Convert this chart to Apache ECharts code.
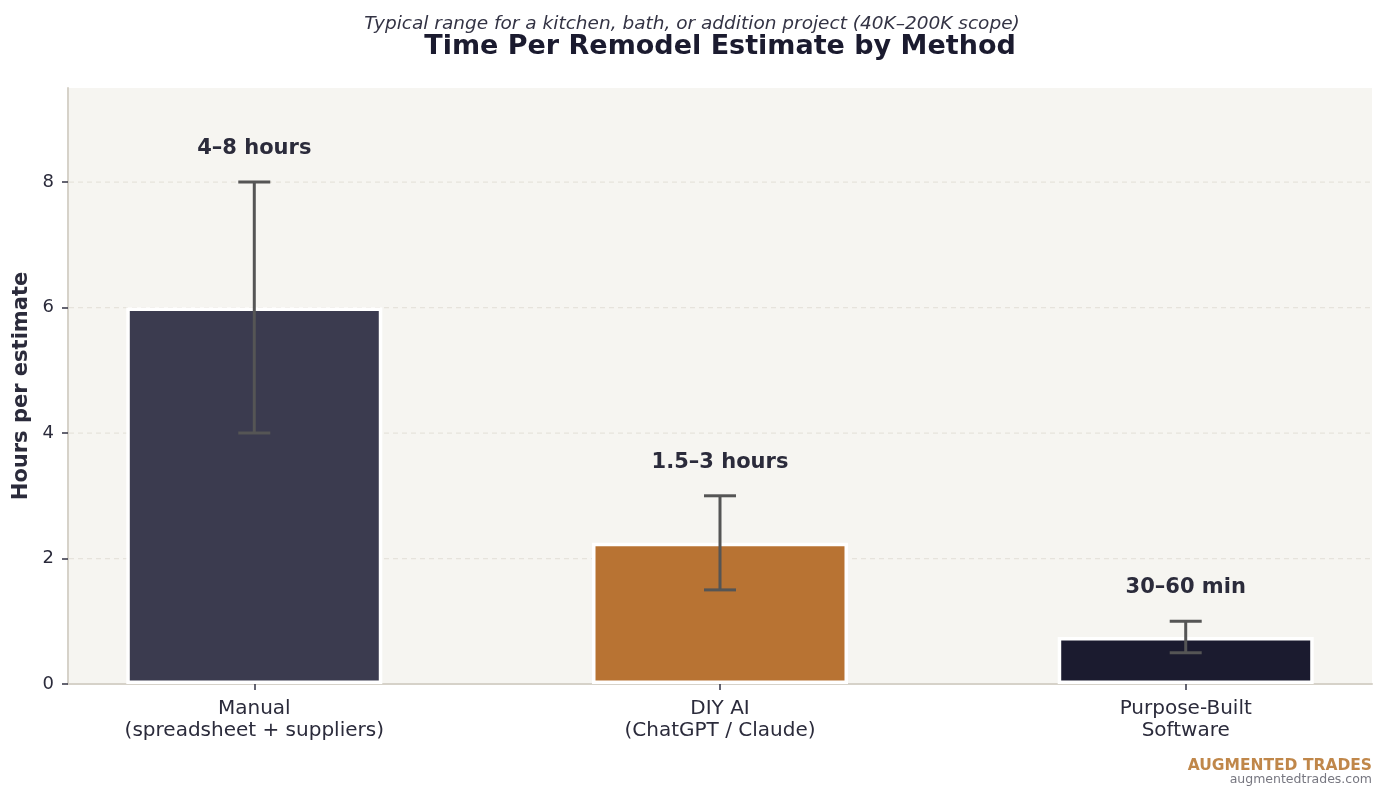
<!DOCTYPE html>
<html>
<head>
<meta charset="utf-8">
<script src="https://cdn.jsdelivr.net/npm/echarts@6/dist/echarts.min.js"></script>
<style>
  html, body { margin: 0; padding: 0; background: #ffffff; }
  #chart { width: 1385px; height: 799px; }
</style>
</head>
<body>
<div id="chart"></div>
<script>
// data
const categories = ['Manual\n(spreadsheet + suppliers)', 'DIY AI\n(ChatGPT / Claude)', 'Purpose-Built\nSoftware'];
const midHours = [6.0, 2.25, 0.75];
const lowHours = [4, 1.5, 0.5];
const highHours = [8, 3, 1];
const rangeLabels = ['4–8 hours', '1.5–3 hours', '30–60 min'];
const barColors = ['#3b3b4f', '#b87333', '#1b1b2f'];
const yTicks = [0, 2, 4, 6, 8];

const FONT = 'DejaVu Sans';

const chart = echarts.init(document.getElementById('chart'));

const barData = midHours.map((v, i) => ({
  value: [i, v],
  itemStyle: { color: barColors[i] }
}));

const errData = lowHours.map((lo, i) => [i, lo, highHours[i], rangeLabels[i]]);

chart.setOption({
  animation: false,
  textStyle: { fontFamily: FONT },
  title: [
    {
      text: 'Typical range for a kitchen, bath, or addition project (40K–200K scope)',
      left: 692, top: 15, textAlign: 'center', padding: 0,
      textStyle: { fontFamily: FONT, fontSize: 18.5, fontStyle: 'italic', fontWeight: 'normal', color: '#333344' }
    },
    {
      text: 'Time Per Remodel Estimate by Method',
      left: 720, top: 33, textAlign: 'center', padding: 0,
      textStyle: { fontFamily: FONT, fontSize: 27, fontWeight: 'bold', color: '#1b1b2f' }
    },
    {
      text: 'AUGMENTED TRADES',
      right: 13, top: 758, padding: 0,
      textStyle: { fontFamily: FONT, fontSize: 15.5, fontWeight: 'bold', color: '#c0874a' }
    },
    {
      text: 'augmentedtrades.com',
      right: 13, top: 773, padding: 0,
      textStyle: { fontFamily: FONT, fontSize: 12.5, fontWeight: 'normal', color: '#777780' }
    }
  ],
  grid: {
    left: 68, right: 13, top: 88, bottom: 115,
    show: true, backgroundColor: '#f6f5f1', borderWidth: 0
  },
  xAxis: {
    type: 'value',
    min: -0.4, max: 2.4,
    splitLine: { show: false },
    axisLine: { show: true, onZero: false, lineStyle: { color: '#d6d2c9', width: 2 } },
    axisTick: { show: true, customValues: [0, 1, 2], length: 6, lineStyle: { color: '#333344', width: 1.5 } },
    axisLabel: {
      customValues: [0, 1, 2],
      formatter: v => categories[Math.round(v)],
      fontFamily: FONT, fontSize: 20, color: '#2b2b3b', lineHeight: 22, margin: 14
    }
  },
  yAxis: {
    type: 'value',
    min: 0, max: 9.5,
    name: 'Hours per estimate',
    nameLocation: 'middle',
    nameGap: 36,
    nameTextStyle: { fontFamily: FONT, fontSize: 21, fontWeight: 'bold', color: '#2b2b3b' },
    axisLine: { show: true, onZero: false, lineStyle: { color: '#d6d2c9', width: 2 } },
    axisTick: { show: true, customValues: yTicks, length: 6, lineStyle: { color: '#333344', width: 1.5 } },
    axisLabel: { customValues: yTicks, fontFamily: FONT, fontSize: 18, color: '#2b2b3b', margin: 14 },
    splitLine: { show: false }
  },
  series: [
    {
      // dashed grid lines at the y ticks
      type: 'custom',
      silent: true,
      z: 1,
      data: yTicks.filter(t => t > 0).map(t => [t]),
      renderItem: (params, api) => {
        const y = api.coord([0, api.value(0)])[1];
        const cs = params.coordSys;
        return {
          type: 'line',
          shape: { x1: cs.x + 1, y1: y, x2: cs.x + cs.width, y2: y },
          style: { stroke: '#e6e3dc', lineWidth: 1.2, lineDash: [5, 4] }
        };
      }
    },
    {
      type: 'bar',
      z: 2,
      barWidth: 256,
      data: barData,
      itemStyle: { borderColor: '#ffffff', borderWidth: 3.5 }
    },
    {
      type: 'custom',
      z: 3,
      data: errData,
      renderItem: (params, api) => {
        const x = api.value(0);
        const lo = api.coord([x, api.value(1)]);
        const hi = api.coord([x, api.value(2)]);
        const txt = api.coord([x, api.value(2) + 0.55]);
        const cap = 16;
        const st = { stroke: '#555555', lineWidth: 3 };
        return {
          type: 'group',
          children: [
            { type: 'line', shape: { x1: lo[0], y1: lo[1], x2: hi[0], y2: hi[1] }, style: st },
            { type: 'line', shape: { x1: lo[0] - cap, y1: lo[1], x2: lo[0] + cap, y2: lo[1] }, style: st },
            { type: 'line', shape: { x1: hi[0] - cap, y1: hi[1], x2: hi[0] + cap, y2: hi[1] }, style: st },
            {
              type: 'text',
              style: {
                x: txt[0], y: txt[1] + 1,
                text: errData[params.dataIndex][3],
                align: 'center', verticalAlign: 'middle',
                font: 'bold 21px "DejaVu Sans"',
                fill: '#2b2b3b'
              }
            }
          ]
        };
      }
    }
  ]
});
</script>
</body>
</html>
